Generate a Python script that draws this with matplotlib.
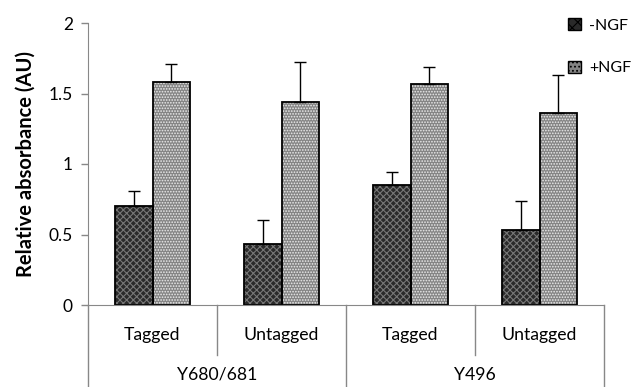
import numpy as np
import matplotlib
matplotlib.use("Agg")
import matplotlib.pyplot as plt
from matplotlib.patches import Patch

# data
groups = ["Y680/681", "Y496"]
cats = ["Tagged", "Untagged", "Tagged", "Untagged"]
minus_ngf = [0.70, 0.43, 0.85, 0.53]
minus_err = [0.11, 0.17, 0.09, 0.21]
plus_ngf = [1.58, 1.44, 1.57, 1.36]
plus_err = [0.13, 0.28, 0.12, 0.27]

plt.rcParams['font.family'] = ['Lato', 'DejaVu Sans']
plt.rcParams['hatch.linewidth'] = 0.8

fig = plt.figure(figsize=(6.41, 3.87), dpi=100)
ax = fig.add_axes([88/641, (387-305)/387, (604-88)/641, (305-23)/387])

x = np.arange(len(cats)) + 0.5
w = 0.29

dark_face, dark_hatch = '#2a2a2a', '#777777'
light_face, light_hatch = '#848484', '#ececec'
dh, lh = 'xxxxx', '......'

ax.bar(x - w/2, minus_ngf, w, color=dark_face, edgecolor=dark_hatch, hatch=dh, linewidth=0)
ax.bar(x + w/2, plus_ngf, w, color=light_face, edgecolor=light_hatch, hatch=lh, linewidth=0)
ax.bar(x - w/2, minus_ngf, w, fill=False, edgecolor='black', linewidth=1.3)
ax.bar(x + w/2, plus_ngf, w, fill=False, edgecolor='black', linewidth=1.3)
ax.errorbar(x - w/2, minus_ngf, yerr=[np.zeros(4), minus_err], fmt='none', ecolor='black', elinewidth=1, capsize=4, capthick=1)
ax.errorbar(x + w/2, plus_ngf, yerr=[np.zeros(4), plus_err], fmt='none', ecolor='black', elinewidth=1, capsize=4, capthick=1)

ax.set_xlim(0, 4)
ax.set_ylim(0, 2)
ax.set_yticks([0, 0.5, 1, 1.5, 2])
ax.set_yticklabels(['0', '0.5', '1', '1.5', '2'], fontsize=12.5)
ax.set_xticks([])
ax.set_ylabel('Relative absorbance (AU)', fontsize=14.5, fontweight='bold', labelpad=9)
ax.tick_params(axis='y', length=5, color='#888888', width=1, pad=6)

for s in ['top', 'right']:
    ax.spines[s].set_visible(False)
ax.spines['left'].set_color('#888888')
ax.spines['bottom'].set_color('#888888')
ax.spines['left'].set_bounds(0, 2)

# category axis below
tr = ax.get_xaxis_transform()
ybot = -0.30
ax.plot([0, 0], [0, ybot], color='#888888', lw=1, transform=tr, clip_on=False)
for xv in [1, 3]:
    ax.plot([xv, xv], [0, -0.177], color='#888888', lw=1, transform=tr, clip_on=False)
for xv in [2, 4]:
    ax.plot([xv, xv], [0, ybot], color='#888888', lw=1, transform=tr, clip_on=False)
for xi, c in zip(x, cats):
    ax.text(xi, -0.106, c, transform=tr, ha='center', va='center', fontsize=12.7)
for gi, g in enumerate(groups):
    ax.text(gi*2 + 1, -0.248, g, transform=tr, ha='center', va='center', fontsize=12.7)

handles = [Patch(facecolor=dark_face, edgecolor='black', hatch='xxx', linewidth=1),
           Patch(facecolor=light_face, edgecolor='black', hatch='....', linewidth=1)]
leg = fig.legend(handles, ['-NGF', '+NGF'], loc='upper left', bbox_to_anchor=(560/641, 1 - 10/387),
                 frameon=False, fontsize=11.5, handlelength=0.8, handleheight=0.8,
                 handletextpad=0.5, labelspacing=1.75, borderpad=0)

fig.savefig('out.png', dpi=100)
